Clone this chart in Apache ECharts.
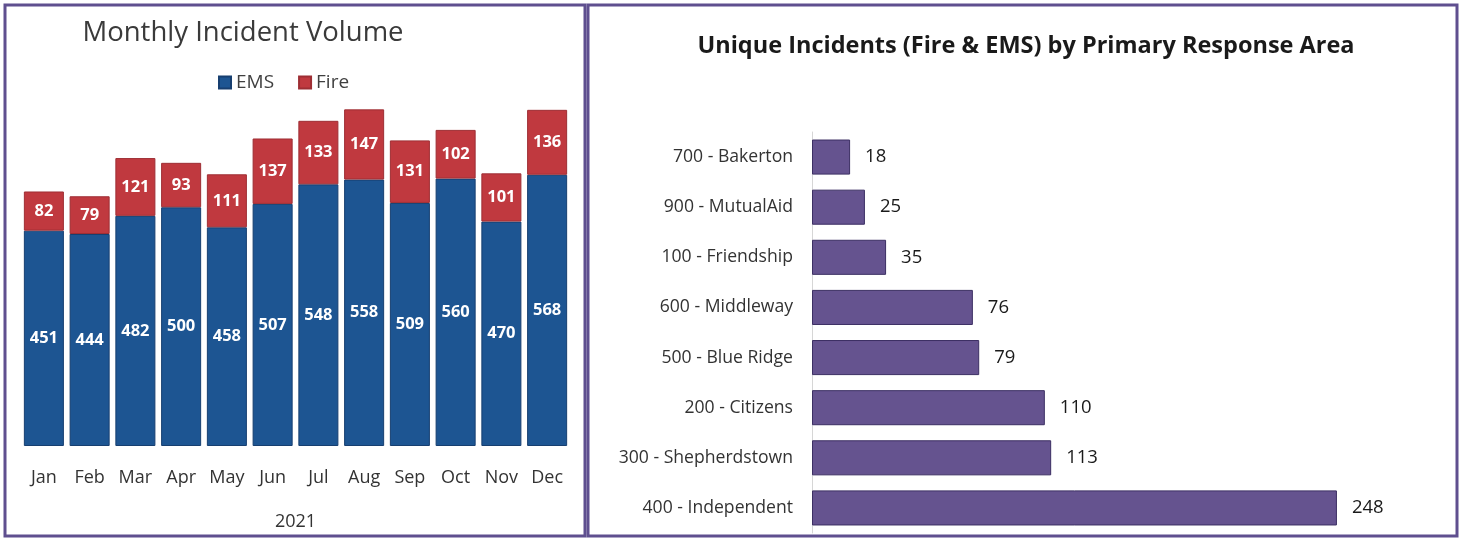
<!DOCTYPE html>
<html>
<head>
<meta charset="utf-8">
<script src="https://cdn.jsdelivr.net/npm/echarts@6/dist/echarts.min.js"></script>
<style>
  html, body { margin: 0; padding: 0; background: #fff; }
  #main { width: 1463px; height: 539px; }
</style>
</head>
<body>
<div id="main"></div>
<script>
// monthly data
const months = ['Jan','Feb','Mar','Apr','May','Jun','Jul','Aug','Sep','Oct','Nov','Dec']
const emsValues = [451,444,482,500,458,507,548,558,509,560,470,568]
const fireValues = [82,79,121,93,111,137,133,147,131,102,101,136]

// response area data
const areas = ['700 - Bakerton','900 - MutualAid','100 - Friendship','600 - Middleway','500 - Blue Ridge','200 - Citizens','300 - Shepherdstown','400 - Independent']
const areaValues = [18,25,35,76,79,110,113,248]

const font = '"Open Sans", "Noto Sans", sans-serif'
const purple = '#5f4f8f'

const chart = echarts.init(document.getElementById('main'))

const options = {
  animation: false,
  textStyle: { fontFamily: font },
  title: [
    {
      text: 'Monthly Incident Volume',
      left: 238, top: 14, textAlign: 'center',
      textStyle: { fontSize: 27.5, fontWeight: 500, color: '#3a3a3a', fontFamily: font }
    },
    {
      text: 'Unique Incidents (Fire & EMS) by Primary Response Area',
      left: 1021, top: 29, textAlign: 'center',
      textStyle: { fontSize: 23.5, fontWeight: 'bold', color: '#1a1a1a', fontFamily: font }
    }
  ],
  legend: {
    data: ['EMS', 'Fire'],
    left: 213, top: 68,
    itemWidth: 12, itemHeight: 12, itemGap: 24,
    icon: 'rect',
    textStyle: { fontSize: 19, color: '#404040', fontFamily: font }
  },
  grid: [
    { left: 21, top: 64, width: 549, height: 382, outerBoundsMode: 'none' },
    { left: 812, top: 132, width: 635, height: 401, outerBoundsMode: 'none' }
  ],
  xAxis: [
    {
      gridIndex: 0,
      type: 'category',
      data: months,
      axisLine: { show: false },
      axisTick: { show: false },
      axisLabel: { interval: 0, color: '#333', fontSize: 18, margin: 23, fontFamily: font },
      name: '2021',
      nameLocation: 'middle',
      nameGap: 67,
      nameTextStyle: { color: '#333', fontSize: 18, fontFamily: font }
    },
    {
      gridIndex: 1,
      type: 'value',
      max: 300,
      show: false
    }
  ],
  yAxis: [
    { gridIndex: 0, type: 'value', max: 800, show: false },
    {
      gridIndex: 1,
      type: 'category',
      data: areas,
      inverse: true,
      axisLine: { show: true, lineStyle: { color: '#d6d6d6', width: 1 } },
      axisTick: { show: false },
      axisLabel: { interval: 0, color: '#333', fontSize: 17.6, margin: 19, fontFamily: font }
    }
  ],
  series: [
    {
      name: 'EMS', type: 'bar', stack: 'm',
      xAxisIndex: 0, yAxisIndex: 0,
      data: emsValues,
      barCategoryGap: '12.5%',
      itemStyle: { color: '#1d5592', borderColor: '#173f70', borderWidth: 1 },
      label: { show: true, position: 'inside', color: '#fff', fontWeight: 'bold', fontSize: 16.5, fontFamily: font }
    },
    {
      name: 'Fire', type: 'bar', stack: 'm',
      xAxisIndex: 0, yAxisIndex: 0,
      data: fireValues,
      barCategoryGap: '12.5%',
      itemStyle: { color: '#c0393f', borderColor: '#9e2e34', borderWidth: 1 },
      label: { show: true, position: 'inside', color: '#fff', fontWeight: 'bold', fontSize: 16.5, fontFamily: font }
    },
    {
      name: 'Areas', type: 'bar',
      xAxisIndex: 1, yAxisIndex: 1,
      data: areaValues,
      barCategoryGap: '30%',
      itemStyle: { color: '#65538f', borderColor: '#3c2f63', borderWidth: 1 },
      label: { show: true, position: 'right', distance: 15, color: '#1a1a1a', fontSize: 18.5, fontFamily: font }
    }
  ],
  graphic: [
    {
      type: 'rect', silent: true,
      shape: { x: 5, y: 5, width: 580, height: 531 },
      style: { fill: 'none', stroke: purple, lineWidth: 3 }
    },
    {
      type: 'rect', silent: true,
      shape: { x: 588, y: 5, width: 869, height: 531 },
      style: { fill: 'none', stroke: purple, lineWidth: 3 }
    }
  ]
}

chart.setOption(options)
</script>
</body>
</html>
